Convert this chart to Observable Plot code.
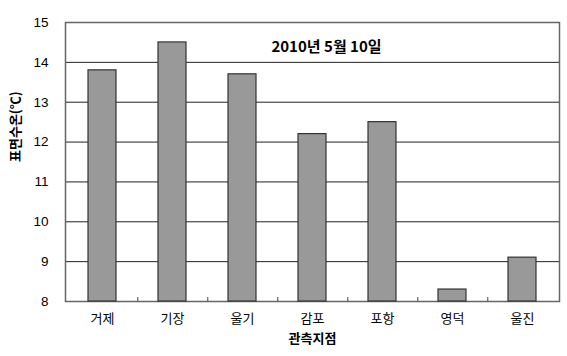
<!DOCTYPE html>
<html>
<head>
<meta charset="utf-8">
<script src="https://cdn.jsdelivr.net/npm/d3@7"></script>
<script src="https://cdn.jsdelivr.net/npm/@observablehq/plot@0.6"></script>
<style>
  html, body { margin: 0; padding: 0; background: #fff; }
  #chart { width: 567px; height: 356px; }
</style>
</head>
<body>
<div id="chart"></div>
<script>
const stations = ["거제", "기장", "울기", "감포", "포항", "영덕", "울진"];
const temps = [13.8, 14.5, 13.7, 12.2, 12.5, 8.3, 9.1];
const yTicks = [8, 9, 10, 11, 12, 13, 14, 15];
const title = "2010년 5월 10일";
const yLabel = "표면수온(℃)";
const xLabel = "관측지점";

const data = stations.map((s, i) => ({station: s, temp: temps[i]}));
const W = 567, H = 356;
const mL = 65, mR = 8, mT = 22, mB = 55;
const step = (W - mL - mR) / stations.length;

const chart = Plot.plot({
  width: W,
  height: H,
  marginLeft: mL,
  marginRight: mR,
  marginTop: mT,
  marginBottom: mB,
  style: {fontFamily: "'Liberation Sans', 'Noto Sans CJK KR', sans-serif", fontSize: "13px", color: "#000", background: "#fff"},
  x: {domain: stations, paddingInner: 0.6, paddingOuter: 0.3, label: null},
  y: {domain: [8, 15], ticks: yTicks, label: null},
  marks: [
    Plot.gridY(yTicks, {stroke: "#222", strokeOpacity: 1, strokeWidth: 1}),
    Plot.frame({stroke: "#666", strokeWidth: 1.5}),
    Plot.barY(data, {x: "station", y1: 8, y2: "temp", fill: "#999", stroke: "#333", strokeWidth: 1.2}),
    Plot.ruleX(stations.slice(0, -1), {x: d => d, y1: 8, y2: 8.1, dx: step / 2, stroke: "#444"}),
    Plot.axisY(yTicks, {tickSize: 0, tickPadding: 17, fontSize: 13.5, fontFamily: "'Liberation Sans', sans-serif"}),
    Plot.axisX({tickSize: 0, tickPadding: 12, fontSize: 13, fontFamily: "'Noto Sans CJK KR', sans-serif"}),
    Plot.text([title], {frameAnchor: "top", dx: 14, dy: 19, fontSize: 15, fontWeight: "bold", fontFamily: "'Noto Sans CJK KR', sans-serif"}),
    Plot.text([xLabel], {frameAnchor: "bottom", dy: 41, fontSize: 13, fontWeight: "bold", fontFamily: "'Noto Sans CJK KR', sans-serif"}),
    Plot.text([yLabel], {frameAnchor: "left", dx: -50, rotate: -90, fontSize: 13, fontWeight: "bold", fontFamily: "'Noto Sans CJK KR', sans-serif"})
  ]
});
document.getElementById("chart").appendChild(chart);
</script>
</body>
</html>
